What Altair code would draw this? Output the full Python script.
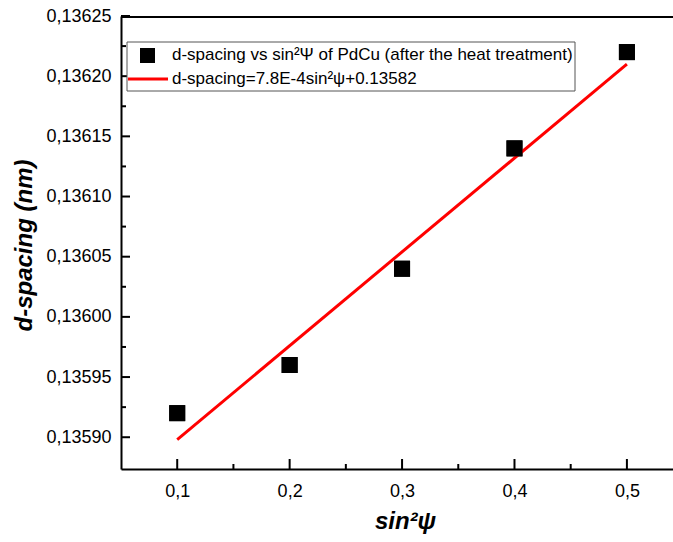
import altair as alt
import pandas as pd

# ---- data ----
sin2psi = [0.1, 0.2, 0.3, 0.4, 0.5]
d_spacing = [0.13592, 0.13596, 0.13604, 0.13614, 0.13622]

fit_x = [0.1, 0.5]
fit_y = [0.135898, 0.13621]

x_major = [0.1, 0.2, 0.3, 0.4, 0.5]
x_minor = [0.15, 0.25, 0.35, 0.45]
y_major = [0.13590, 0.13595, 0.13600, 0.13605, 0.13610, 0.13615, 0.13620, 0.13625]
y_minor = [0.135925, 0.135975, 0.136025, 0.136075, 0.136125, 0.136175, 0.136225]

legend_labels = [
    "d-spacing vs sin\u00b2\u03a8 of PdCu (after the heat treatment)",
    "d-spacing=7.8E-4sin\u00b2\u03c8+0.13582",
]

W, H = 552, 453
FONT = "Liberation Sans, Arial, sans-serif"

xs = alt.Scale(domain=[0.05, 0.541], nice=False, zero=False)
ys = alt.Scale(domain=[0.1358736, 0.13625], nice=False, zero=False)

pts_df = pd.DataFrame({"x": sin2psi, "y": d_spacing})
fit_df = pd.DataFrame({"x": fit_x, "y": fit_y})

x_axis = alt.Axis(
    values=x_major,
    labelExpr="replace(format(datum.value, '.1f'), '.', ',')",
    ticks=False, grid=False,
    domainColor="black", domainWidth=2,
    labelFont=FONT, labelFontSize=18, labelColor="black", labelPadding=13,
    title="sin\u00b2\u03c8", titleFont=FONT, titleFontSize=24,
    titleFontStyle="italic", titleFontWeight="bold", titleColor="black",
    titleX=284, titleY=59, titleBaseline="alphabetic", titleAlign="center",
)
y_axis = alt.Axis(
    values=y_major,
    labelExpr="replace(format(datum.value, '.5f'), '.', ',')",
    ticks=False, grid=False,
    domainColor="black", domainWidth=2,
    labelFont=FONT, labelFontSize=18, labelColor="black", labelPadding=10,
    title="d-spacing (nm)", titleFont=FONT, titleFontSize=24,
    titleFontStyle="italic", titleFontWeight="bold", titleColor="black",
    titleX=-97, titleY=229, titleBaseline="middle", titleAlign="center", titleAngle=270,
)

X = lambda: alt.X("x:Q", scale=xs, axis=x_axis, title="sin\u00b2\u03c8")
Y = lambda: alt.Y("y:Q", scale=ys, axis=y_axis, title="d-spacing (nm)")

fit = alt.Chart(fit_df).mark_line(color="#ff0000", strokeWidth=3).encode(x=X(), y=Y())

points = alt.Chart(pts_df).mark_square(size=256, color="black", opacity=1).encode(x=X(), y=Y())

def yticks(vals, length):
    return alt.Chart(pd.DataFrame({"y": vals})).mark_rule(color="black", strokeWidth=2).encode(
        y=Y(), x=alt.value(0), x2=alt.value(length),
    )

def xticks(vals, length):
    return alt.Chart(pd.DataFrame({"x": vals})).mark_rule(color="black", strokeWidth=2).encode(
        x=X(), y=alt.value(H), y2=alt.value(H - length),
    )

top_frame = alt.Chart(pd.DataFrame({"a": [0]})).mark_rule(color="black", strokeWidth=2).encode(
    x=alt.value(0), x2=alt.value(W), y=alt.value(1),
)

leg_box = alt.Chart(pd.DataFrame({"a": [0]})).mark_rect(
    fill="white", stroke="#555555", strokeWidth=1
).encode(x=alt.value(6), x2=alt.value(454), y=alt.value(26), y2=alt.value(75))

leg_sq = alt.Chart(pd.DataFrame({"a": [0]})).mark_square(size=225, color="black", opacity=1).encode(
    x=alt.value(26.5), y=alt.value(39.5)
)
leg_line = alt.Chart(pd.DataFrame({"a": [0]})).mark_rule(color="#ff0000", strokeWidth=3).encode(
    x=alt.value(7), x2=alt.value(47), y=alt.value(63)
)
leg_t1 = alt.Chart(pd.DataFrame({"t": [legend_labels[0]]})).mark_text(
    align="left", baseline="middle", font=FONT, fontSize=17, color="black"
).encode(text="t:N", x=alt.value(51), y=alt.value(39))
leg_t2 = alt.Chart(pd.DataFrame({"t": [legend_labels[1]]})).mark_text(
    align="left", baseline="middle", font=FONT, fontSize=17, color="black"
).encode(text="t:N", x=alt.value(51), y=alt.value(63))

chart = alt.layer(
    points, fit, points,
    yticks(y_major, 9), yticks(y_minor, 5),
    xticks(x_major, 10), xticks(x_minor, 5),
    top_frame,
    leg_box, leg_sq, leg_line, leg_t1, leg_t2,
).properties(
    width=W, height=H,
    padding={"left": 121, "top": 16, "right": 0, "bottom": 73},
    autosize=alt.AutoSizeParams(type="none"),
    background="white",
).configure_view(stroke=None)

chart.save("out.html", embed_options={"renderer": "svg", "actions": False})
